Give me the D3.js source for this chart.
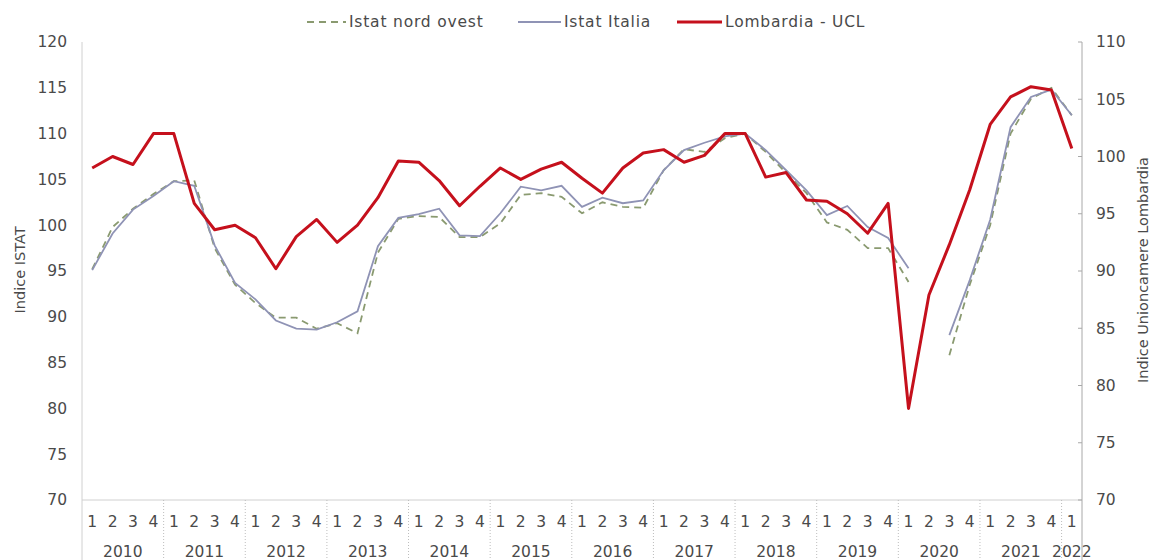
<!DOCTYPE html>
<html><head><meta charset="utf-8">
<script src="https://cdn.jsdelivr.net/npm/d3@7"></script>
<style>
body{margin:0;background:#fff;}
text{font-family:"DejaVu Sans",Verdana,sans-serif;fill:#4a4a4a;}
</style></head>
<body>
<svg id="chart" width="1152" height="560"></svg>
<script>
const years = ["2010","2011","2012","2013","2014","2015","2016","2017","2018","2019","2020","2021","2022"];
const quarterLabels = ["1","2","3","4"];
const leftTicks = [70,75,80,85,90,95,100,105,110,115,120];
const rightTicks = [70,75,80,85,90,95,100,105,110];

const istatNordOvest = [95.2,99.8,101.8,103.4,104.8,104.9,97.5,93.5,91.5,89.9,89.9,88.7,89.3,88.2,97.0,100.7,
  101.0,100.9,98.7,98.7,100.2,103.3,103.5,103.1,101.3,102.5,102.0,101.9,106.0,108.3,108.0,109.5,
  110.0,108.0,105.7,103.5,100.3,99.5,97.5,97.5,93.8,null,85.8,93.5,100.0,110.0,113.8,115.0,112.0];
const istatItalia = [95.1,99.1,101.7,103.2,104.8,104.3,97.8,93.7,91.9,89.6,88.7,88.6,89.4,90.6,97.7,100.8,
  101.2,101.8,98.9,98.8,101.3,104.2,103.8,104.3,102.0,103.0,102.4,102.7,106.0,108.2,109.0,109.7,
  110.0,108.2,106.0,103.8,101.1,102.1,99.8,98.6,95.3,null,88.0,94.0,100.6,110.7,114.0,114.8,112.0];
const lombardiaUCL = [99.0,100.0,99.3,102.0,102.0,95.9,93.6,94.0,92.9,90.2,93.0,94.5,92.5,94.0,96.4,99.6,
  99.5,97.9,95.7,97.4,99.0,98.0,98.9,99.5,98.1,96.8,99.0,100.3,100.6,99.5,100.1,102.0,
  102.0,98.2,98.6,96.2,96.1,95.0,93.3,95.9,78.0,87.9,92.3,97.1,102.8,105.2,106.1,105.8,100.7];

const categories = [];
years.forEach(y => quarterLabels.forEach(q => { if (categories.length < 49) categories.push({year:y, q:q}); }));

const svg = d3.select("#chart");
const L = 82, R = 1082, T = 42, B = 500;
const FS = 15.5;

const x = d3.scaleBand().domain(d3.range(categories.length)).range([L, R]);
const yL = d3.scaleLinear().domain([70,120]).range([B, T]);
const yR = d3.scaleLinear().domain([70,110]).range([B, T]);
const cx = i => x(i) + x.bandwidth()/2;

// axes lines
svg.append("line").attr("x1",L).attr("x2",L).attr("y1",T).attr("y2",B).attr("stroke","#d0d0d0");
svg.append("line").attr("x1",L).attr("x2",R).attr("y1",B).attr("y2",B).attr("stroke","#d0d0d0");
svg.append("line").attr("x1",L).attr("x2",L).attr("y1",B).attr("y2",560).attr("stroke","#d0d0d0");
svg.append("line").attr("x1",R).attr("x2",R).attr("y1",T).attr("y2",560).attr("stroke","#a8a8a8");

// left tick labels
svg.append("g").selectAll("text").data(leftTicks).join("text")
  .attr("x", 67).attr("y", d => yL(d)).attr("dy","0.35em").attr("text-anchor","end")
  .attr("font-size", FS).text(d => d);
// right ticks
svg.append("g").selectAll("line").data(rightTicks).join("line")
  .attr("x1", R-4).attr("x2", R).attr("y1", d => yR(d)).attr("y2", d => yR(d)).attr("stroke","#a8a8a8");
svg.append("g").selectAll("text").data(rightTicks).join("text")
  .attr("x", 1096).attr("y", d => yR(d)).attr("dy","0.35em").attr("text-anchor","start")
  .attr("font-size", FS).text(d => d);

// axis titles
svg.append("text").attr("transform","translate(20,270) rotate(-90)").attr("text-anchor","middle")
  .attr("dy","0.35em").attr("font-size", 14.5).text("Indice ISTAT");
svg.append("text").attr("transform","translate(1143,270) rotate(-90)").attr("text-anchor","middle")
  .attr("dy","0.35em").attr("font-size", 14.5).text("Indice Unioncamere  Lombardia");

// x category labels
svg.append("g").selectAll("text").data(categories).join("text")
  .attr("x", (d,i) => cx(i)).attr("y", 522).attr("dy","0.35em").attr("text-anchor","middle")
  .attr("font-size", FS).text(d => d.q);
// year separators
const sepIdx = d3.range(0, categories.length, 4);
svg.append("g").selectAll("line").data(sepIdx.slice(1)).join("line")
  .attr("x1", i => x(i)).attr("x2", i => x(i)).attr("y1", B).attr("y2", 560)
  .attr("stroke","#bdbdbd").attr("stroke-dasharray","1,2");
// year labels
svg.append("g").selectAll("text").data(years).join("text")
  .attr("x", (d,k) => {
    const first = k*4, last = Math.min(k*4+3, categories.length-1);
    return (x(first) + x(last) + x.bandwidth())/2;
  })
  .attr("y", 552).attr("dy","0.35em").attr("text-anchor","middle")
  .attr("font-size", FS).text(d => d);

// lines
const lineL = d3.line().defined(d => d != null).x((d,i) => cx(i)).y(d => yL(d));
const lineR = d3.line().defined(d => d != null).x((d,i) => cx(i)).y(d => yR(d));

svg.append("path").datum(istatNordOvest).attr("d", lineL).attr("fill","none")
  .attr("stroke","#8a9a70").attr("stroke-width",1.8).attr("stroke-dasharray","7,5");
svg.append("path").datum(istatItalia).attr("d", lineL).attr("fill","none")
  .attr("stroke","#8f93b5").attr("stroke-width",1.8);
svg.append("path").datum(lombardiaUCL).attr("d", lineR).attr("fill","none")
  .attr("stroke","#c5101c").attr("stroke-width",3).attr("stroke-linejoin","round");

// legend
const legend = [
  {name:"Istat nord ovest", color:"#8a9a70", dash:"7,5", w:1.8, x0:307, x1:346},
  {name:"Istat Italia", color:"#8f93b5", dash:null, w:1.8, x0:518, x1:561},
  {name:"Lombardia - UCL", color:"#c5101c", dash:null, w:3, x0:677, x1:722}
];
const lg = svg.append("g");
legend.forEach(d => {
  lg.append("line").attr("x1", d.x0).attr("x2", d.x1).attr("y1", 22).attr("y2", 22)
    .attr("stroke", d.color).attr("stroke-width", d.w).attr("stroke-dasharray", d.dash);
  lg.append("text").attr("x", d.x1 + 3).attr("y", 22).attr("dy","0.35em")
    .attr("font-size", FS).attr("letter-spacing", 0.8).text(d.name);
});
</script>
</body></html>
